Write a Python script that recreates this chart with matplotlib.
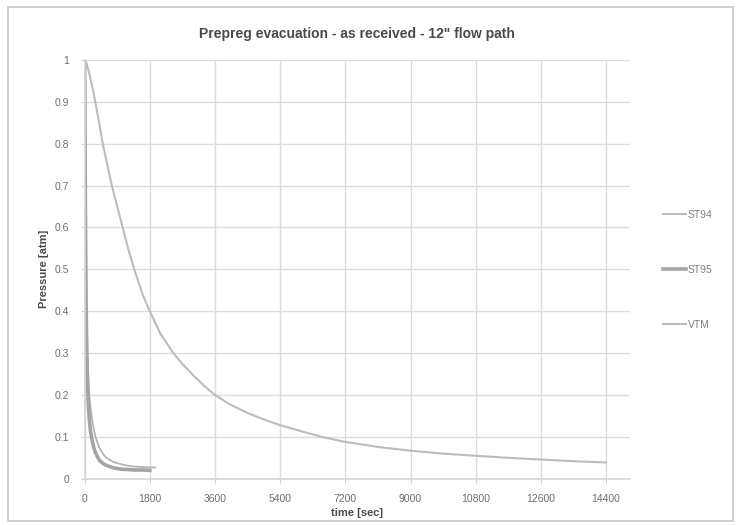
import numpy as np
import matplotlib
matplotlib.use('Agg')
import matplotlib.pyplot as plt
from matplotlib.patches import Rectangle

plt.rcParams['font.family'] = ['Liberation Sans', 'DejaVu Sans']

# pressure decay readings, seconds vs atm
t_st94 = [0, 10, 20, 40, 60, 80, 100, 130, 160, 200, 250, 300, 400, 500,
          600, 800, 1000, 1200, 1400, 1600, 1800, 1950]
p_st94 = [1.0, 0.92, 0.75, 0.5, 0.36, 0.29, 0.24, 0.2, 0.17, 0.145, 0.12,
          0.1, 0.075, 0.06, 0.05, 0.04, 0.035, 0.031, 0.029, 0.028, 0.027, 0.027]

t_st95 = [0, 10, 20, 40, 60, 80, 100, 130, 160, 200, 250, 300, 400, 500,
          600, 800, 1000, 1200, 1400, 1600, 1800]
p_st95 = [1.0, 0.85, 0.65, 0.42, 0.3, 0.23, 0.18, 0.14, 0.115, 0.095, 0.075,
          0.062, 0.045, 0.037, 0.032, 0.026, 0.023, 0.022, 0.021, 0.021, 0.02]

t_vtm = [0, 60, 150, 250, 400, 500, 600, 750, 900, 1050, 1200, 1370, 1600,
         1800, 2100, 2450, 2700, 3000, 3300, 3600, 4000, 4500, 5000, 5400,
         6000, 6600, 7200, 8100, 9000, 9900, 10800, 11700, 12600, 13500, 14400]
p_vtm = [1.0, 0.99, 0.96, 0.92, 0.85, 0.8, 0.76, 0.7, 0.65, 0.6, 0.55, 0.5,
         0.44, 0.4, 0.345, 0.3, 0.274, 0.247, 0.222, 0.2, 0.178, 0.157, 0.14, 0.128,
         0.113, 0.099, 0.088, 0.076, 0.067, 0.06, 0.055, 0.05, 0.046, 0.042, 0.039]

x_ticks = np.arange(0, 14401, 1800)
y_ticks = np.arange(0, 1.01, 0.1)


def main():
    fig = plt.figure(figsize=(7.36, 5.25), dpi=100)
    ax = fig.add_axes([0.115, 0.088, 0.741, 0.798])

    # chart border
    fig.patches.append(Rectangle((0.011, 0.008), 0.985, 0.978, transform=fig.transFigure,
                                 fill=False, edgecolor='#c8c8c8', lw=1.2))

    ax.plot(t_st94, p_st94, color='#b4b4b4', lw=1.3, label='ST94')
    ax.plot(t_st95, p_st95, color='#a4a4a4', lw=2.6, label='ST95')
    ax.plot(t_vtm, p_vtm, color='#bcbcbc', lw=1.5, label='VTM')

    ax.set_xlim(0, 15060)
    ax.set_ylim(0, 1)
    ax.set_xticks(x_ticks)
    ax.set_yticks(y_ticks)
    ax.set_yticklabels(['0', '0.1', '0.2', '0.3', '0.4', '0.5', '0.6', '0.7', '0.8', '0.9', '1'])
    ax.grid(True, color='#dcdcdc', lw=1.0)
    ax.set_axisbelow(True)
    for s in ['top', 'right']:
        ax.spines[s].set_visible(False)
    for s in ['left', 'bottom']:
        ax.spines[s].set_color('#d4d4d4')
        ax.spines[s].set_linewidth(1.2)
    ax.tick_params(colors='#d0d0d0', labelcolor='#6e6e6e', labelsize=7.5, length=3, pad=8)

    ax.set_title('Prepreg evacuation - as received - 12" flow path', fontsize=10,
                 fontweight='bold', color='#4a4a4a', pad=16)
    ax.set_xlabel('time [sec]', fontsize=8, fontweight='bold', color='#4a4a4a', labelpad=3)
    ax.set_ylabel('Pressure [atm]', fontsize=8, fontweight='bold', color='#4a4a4a', labelpad=4)

    leg = fig.legend(loc='center left', bbox_to_anchor=(0.888, 0.486), frameon=False,
                     fontsize=7.5, handlelength=2.2, handletextpad=0.2, labelspacing=4.3)
    for txt in leg.get_texts():
        txt.set_color('#808080')

    fig.savefig('out.png', dpi=100)


if __name__ == '__main__':
    main()
